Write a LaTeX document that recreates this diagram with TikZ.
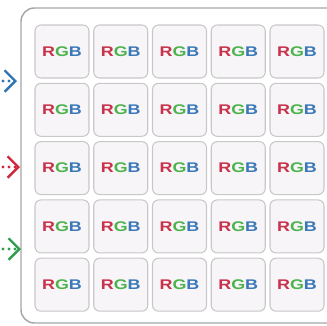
\documentclass[tikz,border=0pt]{standalone}
\usepackage{fontspec}
\setsansfont{Liberation Sans}
\usepackage{xcolor}
\usetikzlibrary{arrows.meta}

\definecolor{rgbred}{HTML}{C8324B}
\definecolor{rgbgreen}{HTML}{4DB34D}
\definecolor{rgbblue}{HTML}{3A78B8}
\definecolor{cellgray}{HTML}{C8C8C8}
\definecolor{cellfill}{HTML}{F7F5F7}
\definecolor{panelgray}{HTML}{A6A6A6}
\definecolor{feedblue}{HTML}{2E75B6}
\definecolor{feedred}{HTML}{D0283C}
\definecolor{feedgreen}{HTML}{2E9E4E}

\newcommand{\rgbtext}{\scalebox{1.28}[1]{\textcolor{rgbred}{R}\textcolor{rgbgreen}{G}\textcolor{rgbblue}{B}}}

\begin{document}
\begin{tikzpicture}[x=0.75pt, y=-0.75pt, >=Stealth,
    pixel/.style={draw=cellgray, fill=cellfill, line width=0.8pt, rounded corners=4.5pt,
        minimum width=40.5pt, minimum height=39.75pt, inner sep=0pt,
        font=\sffamily\bfseries\fontsize{10.5}{10.5}\selectfont},
    panel/.style={draw=panelgray, fill=white, line width=1.1pt, rounded corners=10pt,
        minimum width=243pt, minimum height=236.25pt, inner sep=0pt},
    feed/.style={dash pattern=on 0pt off 4.5pt, line cap=round, line width=2.4pt,
        -{Straight Barb[length=8pt, width=16pt, line width=1.8pt]}}]
    \path[use as bounding box] (0,0) rectangle (327,325);
    \clip (0,0) rectangle (327,325);
    % Display panel
    \node[panel] (panel) at (183,165.5) {};
    % Grid of RGB pixels
    \foreach \row in {0,...,4}
        \foreach \col in {0,...,4}
            \node[pixel] (p\row\col) at ({62+58.75*\col}, {51.5+58.3*\row}) {\rgbtext};
    % Incoming signals
    \coordinate (srcB) at (-9,81);
    \coordinate (inB) at (17,81);
    \coordinate (srcR) at (-9,167);
    \coordinate (inR) at (20,167);
    \coordinate (srcG) at (-9,249);
    \coordinate (inG) at (21,249);
    \draw[feed, feedblue] (srcB) -- (inB);
    \draw[feed, feedred] (srcR) -- (inR);
    \draw[feed, feedgreen] (srcG) -- (inG);
\end{tikzpicture}
\end{document}
